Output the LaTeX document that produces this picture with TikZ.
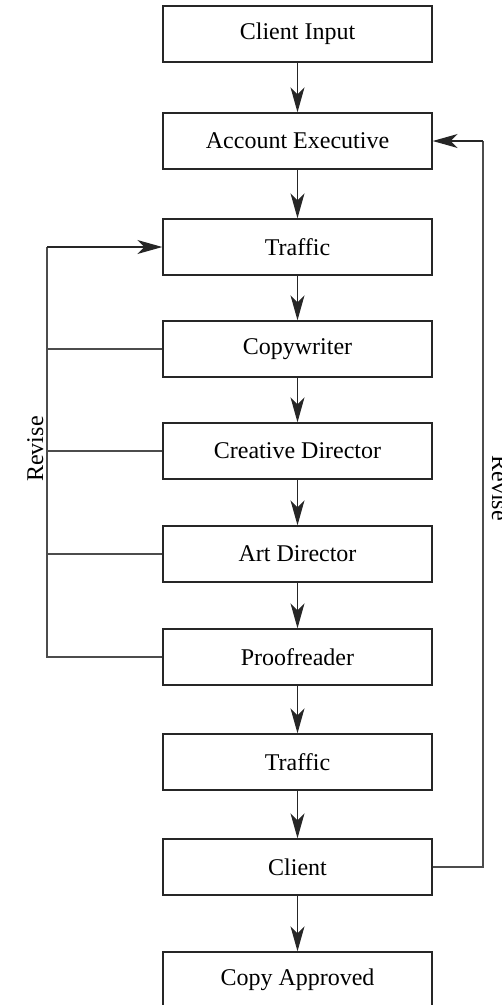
\documentclass[tikz,border=0pt]{standalone}
\usepackage{fontspec}
\setmainfont{Liberation Serif}
\usetikzlibrary{arrows.meta}
\begin{document}
\begin{tikzpicture}[x=1pt,y=-1pt,
  stagebox/.style={draw=black!85, line width=1.4pt, minimum width=269pt, minimum height=56pt,
    inner sep=0pt, font=\fontsize{24}{28}\selectfont},
  flow/.style={draw=black!85, line width=1.2pt, -{Stealth[length=25pt,width=14pt,inset=7pt]}},
  link/.style={draw=black!70, line width=1.2pt},
  sidelabel/.style={font=\fontsize{24}{28}\selectfont, inner sep=0pt, anchor=base}]
  \useasboundingbox (0,0) rectangle (502,1005);

  % stages of the copy workflow, top to bottom
  \node[stagebox] (input)    at (297.5,34)  {Client Input};
  \node[stagebox] (ae)       at (297.5,141) {Account Executive};
  \node[stagebox] (traffic)  at (297.5,247) {Traffic};
  \node[stagebox] (copyw)    at (297.5,349) {Copywriter};
  \node[stagebox] (cd)       at (297.5,451) {Creative Director};
  \node[stagebox] (ad)       at (297.5,554) {Art Director};
  \node[stagebox] (proof)    at (297.5,657) {Proofreader};
  \node[stagebox] (traffic2) at (297.5,762) {Traffic};
  \node[stagebox] (client)   at (297.5,867) {Client};
  \node[stagebox] (approved) at (297.5,980) {Copy Approved};

  % main downward flow
  \draw[flow] (input) -- (ae);
  \draw[flow] (ae) -- (traffic);
  \draw[flow] (traffic) -- (copyw);
  \draw[flow] (copyw) -- (cd);
  \draw[flow] (cd) -- (ad);
  \draw[flow] (ad) -- (proof);
  \draw[flow] (proof) -- (traffic2);
  \draw[flow] (traffic2) -- (client);
  \draw[flow] (client) -- (approved);

  % internal revision loop back to Traffic
  \coordinate (lx) at (47,0);
  \draw[link] (proof.west) -- (proof.west -| lx) -- (traffic.west -| lx);
  \draw[flow] (traffic.west -| lx) -- (traffic.west);
  \draw[link] (copyw.west) -- (copyw.west -| lx);
  \draw[link] (cd.west) -- (cd.west -| lx);
  \draw[link] (ad.west) -- (ad.west -| lx);
  \node[sidelabel, rotate=90] (revl) at (43,449) {Revise};

  % client revision loop back to the account executive
  \coordinate (rx) at (483,0);
  \draw[link] (client.east) -- (client.east -| rx) -- (ae.east -| rx);
  \draw[flow] (ae.east -| rx) -- (ae.east);
  \node[sidelabel, rotate=-90] (revr) at (492,488) {Revise};
\end{tikzpicture}
\end{document}
